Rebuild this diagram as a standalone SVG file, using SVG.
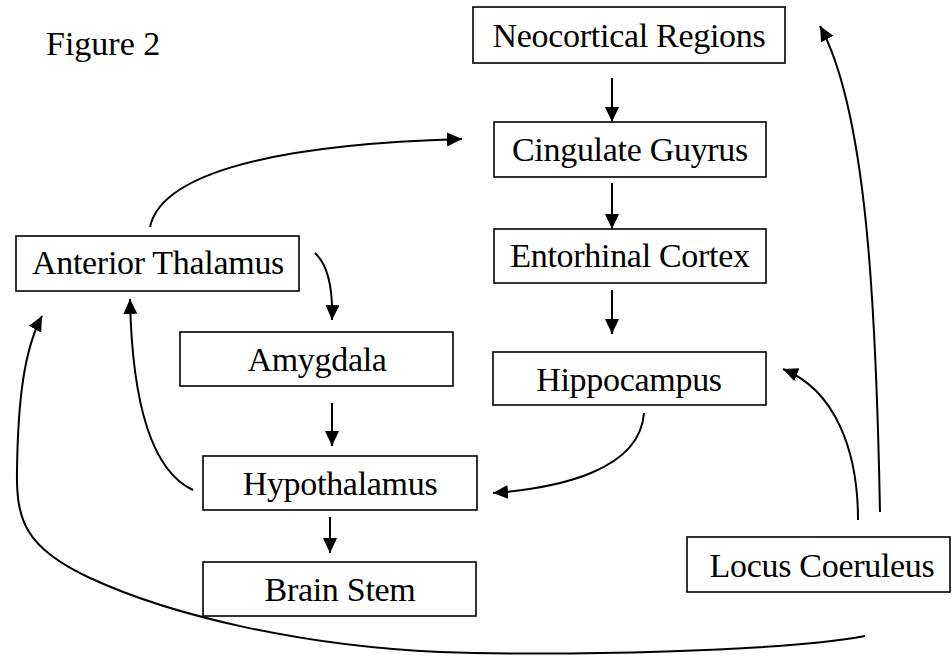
<svg xmlns="http://www.w3.org/2000/svg" width="952" height="660" viewBox="0 0 952 660">
<defs>
<marker id="ah" markerUnits="userSpaceOnUse" markerWidth="17" markerHeight="16" refX="15" refY="7" orient="auto">
<path d="M0,0 L15,7 L0,14 Z" fill="#000"/>
</marker>
</defs>
<style>
.box{fill:#fff;stroke:#000;stroke-width:1.6}
.lbl{font-family:"Liberation Serif","Times New Roman",serif;font-size:34px;fill:#000;text-anchor:middle;letter-spacing:-0.3px}
.c{fill:none;stroke:#000;stroke-width:2;marker-end:url(#ah)}
</style>
<rect width="952" height="660" fill="#fff"/>
<text x="46" y="55" style="font-family:'Liberation Serif','Times New Roman',serif;font-size:34px">Figure 2</text>
<g id="neocortical"><rect class="box" x="473" y="7" width="312" height="56"/><text class="lbl" x="629" y="47">Neocortical Regions</text></g>
<g id="cingulate"><rect class="box" x="494" y="122" width="272" height="55"/><text class="lbl" x="630" y="161">Cingulate Guyrus</text></g>
<g id="entorhinal"><rect class="box" x="494" y="229" width="272" height="54"/><text class="lbl" x="630" y="267">Entorhinal Cortex</text></g>
<g id="hippocampus"><rect class="box" x="493" y="352" width="273" height="53"/><text class="lbl" x="629" y="391">Hippocampus</text></g>
<g id="anterior-thalamus"><rect class="box" x="16" y="236" width="283" height="55"/><text class="lbl" x="158" y="274">Anterior Thalamus</text></g>
<g id="amygdala"><rect class="box" x="180" y="332" width="273" height="54"/><text class="lbl" x="317" y="371">Amygdala</text></g>
<g id="hypothalamus"><rect class="box" x="203" y="456" width="274" height="54"/><text class="lbl" x="340" y="495">Hypothalamus</text></g>
<g id="brain-stem"><rect class="box" x="203" y="562" width="273" height="54"/><text class="lbl" x="340" y="601">Brain Stem</text></g>
<g id="locus-coeruleus"><rect class="box" x="687" y="537" width="263" height="55"/><text class="lbl" x="822" y="577">Locus Coeruleus</text></g>
<g id="connectors">
<path class="c" d="M612,78 L612,122"/>
<path class="c" d="M612,183 L612,229"/>
<path class="c" d="M612,290 L612,334"/>
<path class="c" d="M332,403 L332,446"/>
<path class="c" d="M330,517 L330,553"/>
<path class="c" d="M150,227 C160,180 250,145 462,139"/>
<path class="c" d="M315,253 C328,265 333,288 332,320"/>
<path class="c" d="M193,490 C150,470 132,400 130,299"/>
<path class="c" d="M644,413 C640,470 560,488 493,493"/>
<path class="c" d="M858,520 C858,450 835,390 783,369"/>
<path class="c" d="M880,512 C876,300 866,110 820,26"/>
<path class="c" d="M865,636 C780,652 560,656 440,652 C300,646 170,615 90,578 C25,548 16,520 17,470 C18,400 24,350 42,316"/>
</g>
</svg>
